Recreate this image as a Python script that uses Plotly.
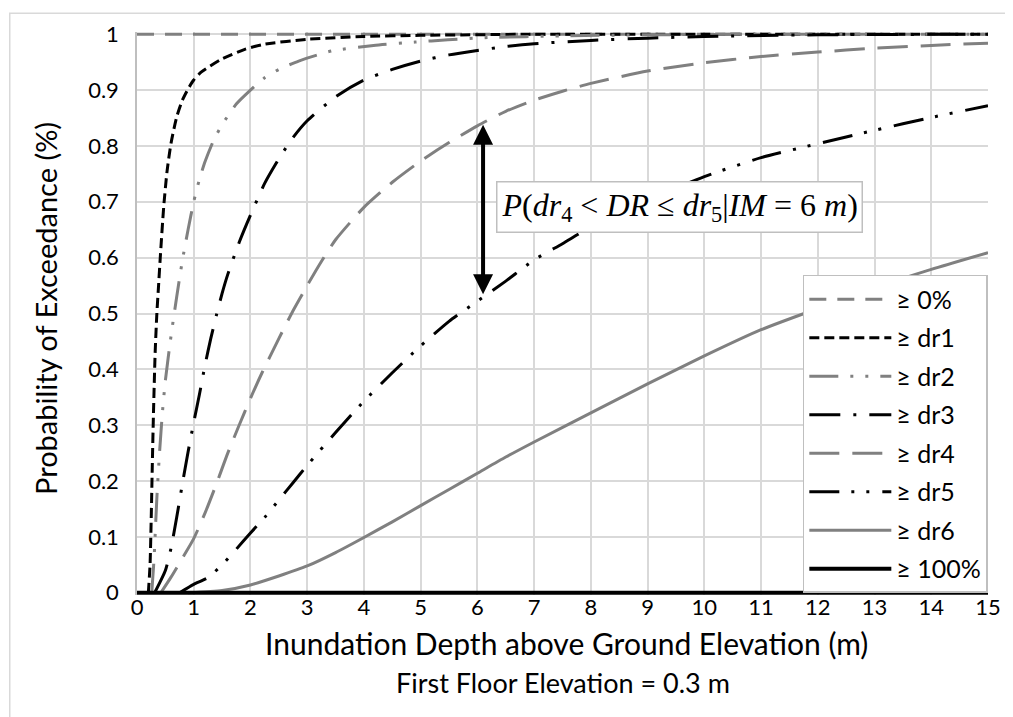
import plotly.graph_objects as go

# ---------------- data ----------------
x_ticks = list(range(0, 16))
y_tick_vals = [0, 0.1, 0.2, 0.3, 0.4, 0.5, 0.6, 0.7, 0.8, 0.9, 1.0]
y_tick_text = ["0", "0.1", "0.2", "0.3", "0.4", "0.5", "0.6", "0.7", "0.8", "0.9", "1"]

bound_x = [0, 15]
p0_y = [1, 1]        # >= 0%
p100_y = [0, 0]      # >= 100%

dr1_x = [0.20, 0.23, 0.25, 0.27, 0.29, 0.32, 0.35, 0.38, 0.41, 0.47, 0.53, 0.60, 0.70, 0.80, 0.90, 1.00, 1.13, 1.48, 1.90, 2.24, 3.0, 4.0, 5.0, 7.0, 10.0, 15.0]
dr1_y = [0.0, 0.05, 0.13, 0.23, 0.32, 0.43, 0.50, 0.55, 0.60, 0.69, 0.755, 0.805, 0.852, 0.882, 0.902, 0.918, 0.932, 0.955, 0.973, 0.982, 0.991, 0.996, 0.998, 1.0, 1.0, 1.0]

dr2_x = [0.26, 0.30, 0.35, 0.40, 0.45, 0.50, 0.60, 0.70, 0.80, 0.90, 1.00, 1.10, 1.20, 1.35, 1.50, 1.75, 2.00, 2.25, 2.50, 2.85, 3.43, 4.17, 4.90, 5.48, 6.18, 7.5, 9.0, 11.0, 15.0]
dr2_y = [0.0, 0.06, 0.17, 0.255, 0.325, 0.38, 0.46, 0.53, 0.595, 0.65, 0.70, 0.74, 0.772, 0.81, 0.838, 0.875, 0.90, 0.922, 0.937, 0.952, 0.97, 0.98, 0.986, 0.99, 0.994, 0.997, 0.999, 1.0, 1.0]

dr3_x = [0.31, 0.50, 0.60, 0.70, 0.80, 0.90, 1.00, 1.10, 1.20, 1.30, 1.40, 1.50, 1.60, 1.80, 2.00, 2.25, 2.50, 2.75, 3.00, 3.50, 4.00, 4.50, 5.00, 5.50, 6.00, 6.50, 7.00, 8.00, 9.00, 10.0, 12.0, 15.0]
dr3_y = [0.0, 0.04, 0.08, 0.135, 0.195, 0.252, 0.305, 0.355, 0.408, 0.455, 0.497, 0.536, 0.570, 0.627, 0.676, 0.733, 0.777, 0.815, 0.845, 0.888, 0.918, 0.937, 0.952, 0.963, 0.971, 0.978, 0.983, 0.989, 0.993, 0.996, 0.999, 1.0]

dr4_x = [0.42, 0.60, 0.80, 1.00, 1.20, 1.40, 1.60, 1.80, 2.00, 2.20, 2.50, 2.75, 3.00, 3.25, 3.50, 4.00, 4.50, 5.00, 5.50, 6.00, 6.50, 7.00, 7.50, 8.00, 9.00, 10.0, 11.0, 12.0, 13.0, 14.0, 15.0]
dr4_y = [0.0, 0.028, 0.062, 0.097, 0.143, 0.195, 0.25, 0.30, 0.348, 0.393, 0.455, 0.505, 0.55, 0.593, 0.632, 0.69, 0.735, 0.773, 0.806, 0.836, 0.862, 0.882, 0.898, 0.912, 0.934, 0.949, 0.96, 0.968, 0.975, 0.98, 0.984]

dr5_x = [0.75, 1.00, 1.25, 1.50, 1.75, 2.00, 2.25, 2.50, 2.75, 3.00, 3.50, 4.00, 4.50, 5.00, 5.50, 6.00, 6.50, 7.00, 7.50, 8.00, 9.00, 10.0, 11.0, 12.0, 13.0, 14.0, 15.0]
dr5_y = [0.0, 0.015, 0.027, 0.05, 0.078, 0.107, 0.135, 0.166, 0.197, 0.228, 0.287, 0.343, 0.394, 0.442, 0.486, 0.522, 0.558, 0.596, 0.625, 0.655, 0.703, 0.745, 0.779, 0.804, 0.828, 0.851, 0.872]

dr6_x = [0.9, 1.5, 2.0, 2.5, 3.0, 3.5, 4.0, 4.5, 5.0, 5.5, 6.0, 6.5, 7.0, 8.0, 9.0, 10.0, 11.0, 12.0, 13.0, 14.0, 15.0]
dr6_y = [0.0, 0.004, 0.014, 0.03, 0.048, 0.072, 0.099, 0.127, 0.156, 0.185, 0.214, 0.243, 0.27, 0.322, 0.374, 0.424, 0.471, 0.509, 0.546, 0.579, 0.609]

# annotation values
im_value = 6.1
arrow_top = 0.838
arrow_bottom = 0.532
label_x = 9.56
label_y = 0.691

# ---------------- styling ----------------
GRAY = "#808080"
BLACK = "#000000"
FONT = "Lato"

series = [
    ("≥ 0%", bound_x, p0_y, GRAY, "17px,11px", 3),
    ("≥ dr1", dr1_x, dr1_y, BLACK, "10px,5px", 3),
    ("≥ dr2", dr2_x, dr2_y, GRAY, "29px,12px,3px,12px,3px,12px", 3),
    ("≥ dr3", dr3_x, dr3_y, BLACK, "31px,13px,3px,13px", 3),
    ("≥ dr4", dr4_x, dr4_y, GRAY, "30px,13px", 3),
    ("≥ dr5", dr5_x, dr5_y, BLACK, "30px,12px,3px,12px,3px,13px", 3),
    ("≥ dr6", dr6_x, dr6_y, GRAY, "solid", 3),
    ("≥ 100%", bound_x, p100_y, BLACK, "solid", 4),
]

fig = go.Figure()
for i, (name, xs, ys, col, dash, w) in enumerate(series):
    fig.add_trace(go.Scatter(
        x=xs, y=ys, mode="lines", name=name, legendgroup=f"g{i}",
        line=dict(color=col, width=w, dash=dash, shape="spline", smoothing=0.6),
        hoverinfo="skip",
    ))

axis_common = dict(
    showgrid=True, gridcolor="#d9d9d9", gridwidth=1.5,
    zeroline=False, ticks="",
    tickfont=dict(family=FONT, size=22, color="#000000"),
)

# The page adds an 8px body margin, so the figure is 1005x709 and sits at (8, 8).
fig.update_layout(
    width=1005, height=709,
    margin=dict(l=129, r=20, t=20, b=122, pad=0),
    paper_bgcolor="white", plot_bgcolor="white",
    font=dict(family=FONT, color="#000000"),
    xaxis=dict(range=[0, 15], tickmode="array", tickvals=x_ticks,
               ticktext=[str(v) for v in x_ticks], ticklabelstandoff=-3,
               showline=False, **axis_common),
    yaxis=dict(range=[-0.004, 1.004], tickmode="array", tickvals=y_tick_vals,
               ticktext=y_tick_text, ticklabelstandoff=12,
               showline=True, linecolor="#bfbfbf", linewidth=1.5, **axis_common),
    showlegend=True,
    legend=dict(
        x=0.7824, y=0.5685, xanchor="left", yanchor="top",
        bgcolor="white", bordercolor="#bfbfbf", borderwidth=1.5,
        font=dict(family=FONT, size=25, color="#000000"),
        tracegroupgap=3, traceorder="grouped", itemwidth=82,
    ),
)

# chart frame (left and top edges of the chart area)
fig.add_shape(type="rect", xref="paper", yref="paper",
              x0=-128 / 856, x1=1.06, y0=-0.3, y1=586 / 567,
              line=dict(color="#d9d9d9", width=1.5), fillcolor="rgba(0,0,0,0)", layer="below")

# axis titles
fig.add_annotation(xref="paper", yref="paper", x=-0.1075, y=0.509,
                   text="Probability of Exceedance (%)", textangle=-90, showarrow=False,
                   font=dict(family=FONT, size=29, color="#000000"),
                   xanchor="center", yanchor="middle")
fig.add_annotation(xref="paper", yref="paper", x=0.5047, y=-0.0847,
                   text="Inundation Depth above Ground Elevation (m)", showarrow=False,
                   font=dict(family=FONT, size=30, color="#000000"),
                   xanchor="center", yanchor="middle")
fig.add_annotation(xref="paper", yref="paper", x=0.5, y=-0.155,
                   text="First Floor Elevation = 0.3 m", showarrow=False,
                   font=dict(family=FONT, size=27, color="#000000"),
                   xanchor="center", yanchor="middle")

# double-headed arrow between dr4 and dr5 at IM = 6 m
fig.add_annotation(x=im_value, y=arrow_top, ax=im_value, ay=arrow_bottom,
                   xref="x", yref="y", axref="x", ayref="y", text="",
                   showarrow=True, arrowhead=2, startarrowhead=2, arrowside="end+start",
                   arrowsize=1, startarrowsize=1, arrowwidth=4, arrowcolor=BLACK)

# probability label box
fig.add_annotation(x=label_x, y=label_y, xref="x", yref="y", showarrow=False,
                   text="<i>P</i>(<i>dr</i><sub>4</sub> &lt; <i>DR</i> ≤ <i>dr</i><sub>5</sub>|<i>IM</i> = 6 <i>m</i>)",
                   font=dict(family="Liberation Serif", size=32, color="#000000"),
                   bgcolor="white", bordercolor="#bfbfbf", borderwidth=1.5, borderpad=4,
                   xanchor="center", yanchor="middle")

fig.write_html("out.html")
